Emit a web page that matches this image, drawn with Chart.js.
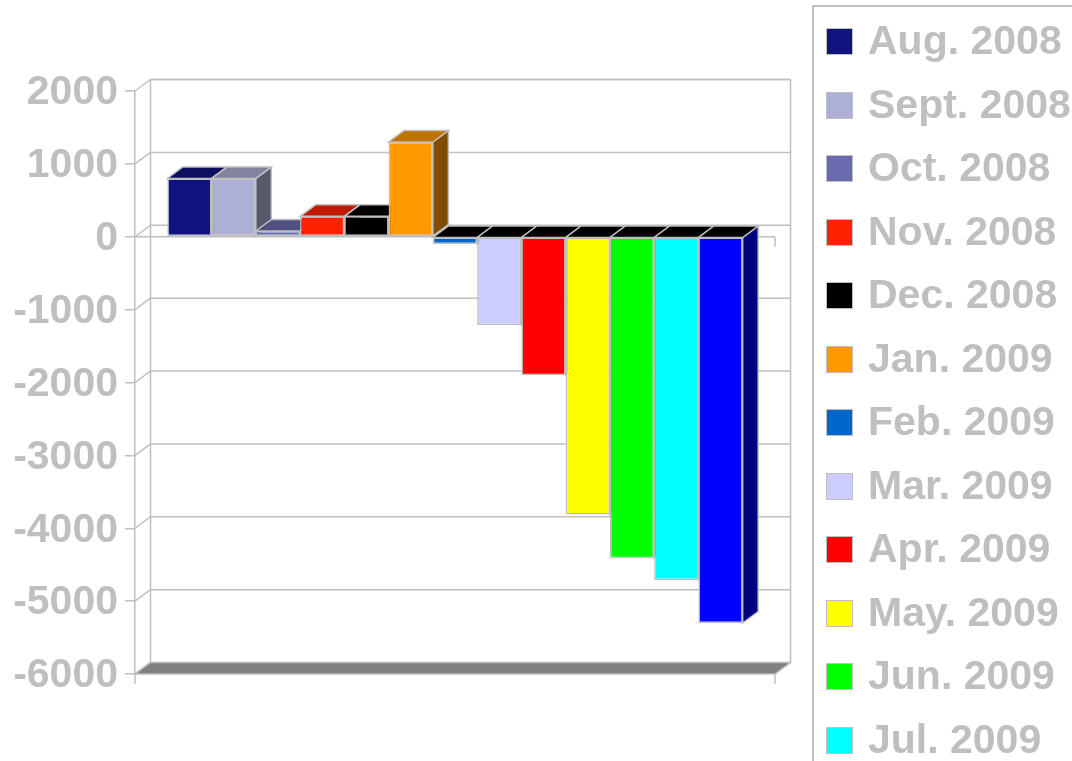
<!DOCTYPE html>
<html>
<head>
<meta charset="utf-8">
<script src="https://cdn.jsdelivr.net/npm/chart.js@4"></script>
<style>
  html, body { margin:0; padding:0; width:1072px; height:761px; overflow:hidden; background:#fff; }
  #wrap { position:relative; width:1072px; height:761px; }
  #c { position:absolute; left:0; top:0; }
  #legend { position:absolute; left:812px; top:5px; width:300px; height:900px; border:2px solid #BFBFBF; box-sizing:border-box;
            font-family:"Liberation Sans", Arial, sans-serif; font-weight:bold; font-size:41px; color:#BFBFBF; }
  .item { position:absolute; left:12px; height:30px; white-space:nowrap; }
  .sw { position:absolute; left:0; top:0; width:27px; height:27px; border:1.5px solid #BFBFBF; box-sizing:border-box; }
  .tx { position:absolute; left:42px; top:-8px; line-height:41px; }
</style>
</head>
<body>
<div id="wrap">
  <canvas id="c" width="1072" height="761"></canvas>
  <div id="legend"></div>
</div>
<script>
// ---- data ----
const seriesLabels = ["Aug. 2008","Sept. 2008","Oct. 2008","Nov. 2008","Dec. 2008","Jan. 2009","Feb. 2009",
                      "Mar. 2009","Apr. 2009","May. 2009","Jun. 2009","Jul. 2009","Aug. 2009"];
const seriesValues = [800, 800, 80, 280, 280, 1300, -100, -1210, -1900, -3810, -4410, -4710, -5300];
const seriesColors = ["#10137E","#ADB0D4","#6A6AAE","#FF2200","#000000","#FF9900","#0066CC",
                      "#CCCCFF","#FF0000","#FFFF00","#00FF00","#00FFFF","#0000FF"];
const yMin = -6000, yMax = 2000, yStep = 1000;

// ---- 3D helpers ----
const DX = 15.5, DY = 11.5;
const EDGE = "#BFBFBF";
function shade(hex, f) {
  const n = parseInt(hex.slice(1), 16);
  const r = Math.round(((n >> 16) & 255) * f), g = Math.round(((n >> 8) & 255) * f), b = Math.round((n & 255) * f);
  return "rgb(" + r + "," + g + "," + b + ")";
}
function poly(ctx, pts, fill) {
  ctx.beginPath();
  ctx.moveTo(pts[0][0], pts[0][1]);
  for (let i = 1; i < pts.length; i++) ctx.lineTo(pts[i][0], pts[i][1]);
  ctx.closePath();
  if (fill) { ctx.fillStyle = fill; ctx.fill(); }
  ctx.strokeStyle = EDGE; ctx.lineWidth = 1.5; ctx.stroke();
}
function line(ctx, x1, y1, x2, y2) {
  ctx.beginPath(); ctx.moveTo(x1, y1); ctx.lineTo(x2, y2); ctx.stroke();
}

const box3d = {
  id: "box3d",
  beforeDatasetsDraw(chart) {
    const ctx = chart.ctx, a = chart.chartArea, y = chart.scales.y;
    ctx.save();
    ctx.strokeStyle = EDGE; ctx.lineWidth = 1.5;
    const L = a.left, R = a.right, T = a.top, B = a.bottom;
    // back wall outline
    line(ctx, L + DX, T - DY, R + DX, T - DY);
    line(ctx, L + DX, T - DY, L + DX, B - DY);
    line(ctx, R + DX, T - DY, R + DX, B - DY);
    // back gridlines + side diagonals
    for (let v = yMin; v <= yMax; v += yStep) {
      const p = y.getPixelForValue(v);
      line(ctx, L + DX, p - DY, R + DX, p - DY);
      line(ctx, L, p, L + DX, p - DY);
    }
    // floor
    poly(ctx, [[L, B], [R, B], [R + DX, B - DY], [L + DX, B - DY]], "#808080");
    ctx.strokeStyle = EDGE; ctx.lineWidth = 1.5;
    line(ctx, L, B, L, B + 10);
    line(ctx, R, B, R, B + 10);
    // front zero line with end ticks
    const z = y.getPixelForValue(0);
    line(ctx, L, z, R, z);
    line(ctx, R, z, R, z + 10);
    // 3D depth faces of bars, left to right (front faces are drawn by Chart.js afterwards)
    chart.data.datasets.forEach((ds, i) => {
      const bar = chart.getDatasetMeta(i).data[0];
      if (!bar) return;
      const col = seriesColors[i];
      const x0 = bar.x - bar.width / 2, x1 = bar.x + bar.width / 2;
      const top = Math.min(bar.y, bar.base), bot = Math.max(bar.y, bar.base);
      const positive = seriesValues[i] >= 0;
      poly(ctx, [[x1, top], [x1 + DX, top - DY], [x1 + DX, bot - DY], [x1, bot]], shade(col, 0.5));
      poly(ctx, [[x0, top], [x1, top], [x1 + DX, top - DY], [x0 + DX, top - DY]], positive ? shade(col, 0.75) : "#000000");
    });
    ctx.restore();
  }
};

const datasets = seriesLabels.map((lab, i) => ({
  label: lab,
  data: [seriesValues[i]],
  backgroundColor: seriesColors[i],
  borderColor: EDGE,
  borderWidth: 1.5,
  borderSkipped: false
}));

new Chart(document.getElementById("c"), {
  type: "bar",
  data: { labels: [""], datasets },
  options: {
    responsive: false,
    animation: false,
    devicePixelRatio: 1,
    layout: { padding: { left: 0, top: 91, right: 297, bottom: 87 } },
    plugins: { legend: { display: false }, tooltip: { enabled: false } },
    datasets: { bar: { categoryPercentage: 0.899, barPercentage: 1.0 } },
    scales: {
      x: { display: false },
      y: {
        min: yMin, max: yMax,
        afterFit(scale) { scale.width = 135; },
        ticks: {
          stepSize: yStep,
          padding: 7,
          labelOffset: 2,
          color: "#BFBFBF",
          font: { family: "'Liberation Sans', Arial, sans-serif", size: 41, weight: "bold" },
          callback: (v) => String(v)
        },
        grid: { display: true, drawOnChartArea: false, drawTicks: true, tickLength: 10, color: EDGE, lineWidth: 1.5 },
        border: { display: true, color: EDGE, width: 1.5 }
      }
    }
  },
  plugins: [box3d]
});

// ---- legend (HTML, real text) ----
const lg = document.getElementById("legend");
seriesLabels.forEach((lab, i) => {
  const it = document.createElement("div");
  it.className = "item";
  it.style.top = (21 + i * 63.5) + "px";
  const sw = document.createElement("div");
  sw.className = "sw"; sw.style.background = seriesColors[i];
  const tx = document.createElement("div");
  tx.className = "tx"; tx.textContent = lab;
  it.appendChild(sw); it.appendChild(tx);
  lg.appendChild(it);
});
</script>
</body>
</html>
